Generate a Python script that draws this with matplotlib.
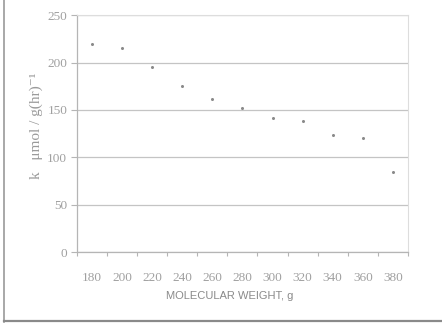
import numpy as np
import matplotlib
matplotlib.use("Agg")
import matplotlib.pyplot as plt
from matplotlib.lines import Line2D

weights = ["180", "200", "220", "240", "260", "280", "300", "320", "340", "360", "380"]
k_values = [220, 215, 195, 175, 162, 152, 141, 138, 124, 120, 85]
y_ticks = [0, 50, 100, 150, 200, 250]

fig = plt.figure(figsize=(4.42, 3.24), dpi=100)
ax = fig.add_axes([0.174, 0.222, 0.749, 0.731])

x = np.arange(len(weights))
ax.plot(x, k_values, linestyle="none", marker="o", markersize=2.2,
        color="#8a8a8a", markeredgewidth=0)

ax.set_xlim(-0.5, len(weights) - 0.5)
ax.set_ylim(0, 250)
ax.set_yticks(y_ticks)
ax.set_yticklabels([str(v) for v in y_ticks])
ax.yaxis.grid(True, color="#c4c4c4", linewidth=0.9)
ax.set_axisbelow(True)

# category axis: labels at centres, ticks between categories
ax.set_xticks(np.arange(-0.5, len(weights), 1.0))
ax.set_xticklabels([])
ax.set_xticks(x, minor=True)
ax.set_xticklabels(weights, minor=True)
ax.tick_params(axis="x", which="minor", length=0, pad=14)
ax.tick_params(axis="x", which="major", length=3, color="#b5b5b5", direction="out")
ax.tick_params(axis="y", length=4, color="#b5b5b5", pad=3)

for lab in ax.get_xticklabels(minor=True) + ax.get_yticklabels():
    lab.set_fontfamily("Liberation Serif")
    lab.set_fontsize(9.5)
    lab.set_color("#a0a0a0")

for side in ["left", "bottom"]:
    ax.spines[side].set_color("#b5b5b5")
    ax.spines[side].set_linewidth(0.9)
for side in ["top", "right"]:
    ax.spines[side].set_color("#dddddd")
    ax.spines[side].set_linewidth(0.8)

ax.set_xlabel("MOLECULAR WEIGHT, g", fontfamily="Liberation Sans", fontsize=8,
              color="#8a8a8a", va="top")
ax.xaxis.set_label_coords(0.462, -0.165)
ax.set_ylabel("k   \u03bcmol / g(hr)\u207b\u00b9",
              fontfamily=["Liberation Serif", "DejaVu Serif"], fontsize=11,
              color="#9a9a9a", va="center")
ax.yaxis.set_label_coords(-0.124, 0.535)

# outer frame of the pasted chart
fig.add_artist(Line2D([0.009, 0.009], [0.006, 1.0], color="#9a9a9a", linewidth=1.2))
fig.add_artist(Line2D([0.009, 1.0], [0.008, 0.008], color="#8a8a8a", linewidth=1.6))

fig.savefig("out.png", dpi=100)
